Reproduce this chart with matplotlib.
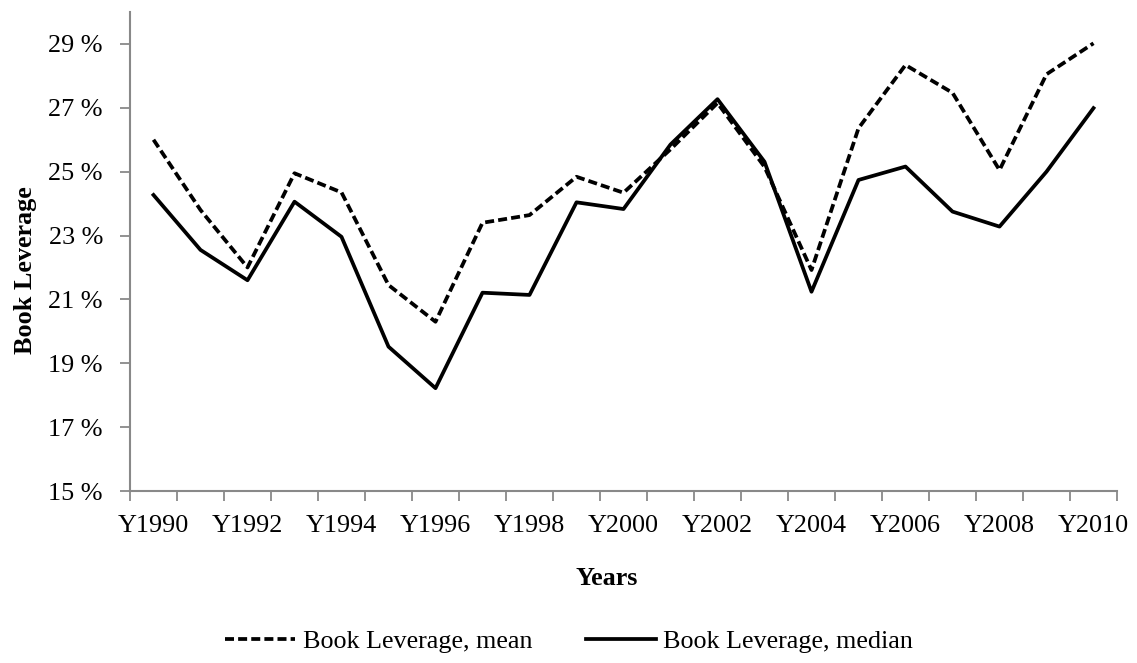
import numpy as np
import matplotlib
matplotlib.use("Agg")
import matplotlib.pyplot as plt
from matplotlib.ticker import FuncFormatter

plt.rcParams['font.family'] = ['Liberation Serif', 'DejaVu Serif']

# data (percent)
years = ['Y%d' % y for y in range(1990, 2011)]
lev_mean = [26.0, 23.8, 22.0, 24.95, 24.35, 21.45, 20.3, 23.4, 23.64, 24.84, 24.34,
            25.7, 27.15, 25.15, 21.92, 26.36, 28.34, 27.47, 25.05, 28.05, 29.02]
lev_median = [24.27, 22.55, 21.6, 24.06, 22.96, 19.52, 18.22, 21.21, 21.14, 24.04, 23.83,
              25.85, 27.27, 25.31, 21.24, 24.74, 25.16, 23.75, 23.28, 25.0, 26.99]

FS = 18.8

fig = plt.figure(figsize=(11.37, 6.63), dpi=100)
ax = fig.add_axes([130 / 1137, 1 - 491 / 663, (1117 - 130) / 1137, (491 - 12) / 663])

x = np.arange(len(years))
ax.plot(x, lev_mean, color='black', lw=2.7, linestyle=(0, (2.4, 1.1)),
        solid_capstyle='butt', label='Book Leverage, mean')
ax.plot(x, lev_median, color='black', lw=2.7, label='Book Leverage, median')

ax.set_xlim(-0.5, len(years) - 0.5)
ax.set_ylim(15, 30)
ax.set_yticks(np.arange(15, 30, 2))
ax.yaxis.set_major_formatter(FuncFormatter(lambda v, p: '%d %%' % v))

# ticks between categories, labels on every other category
ax.set_xticks(np.arange(-0.5, len(years), 1.0))
ax.set_xticklabels([])
ax.set_xticks(x[::2], minor=True)
ax.set_xticklabels(years[::2], minor=True)
ax.tick_params(axis='x', which='minor', length=0, pad=17, labelsize=FS)
ax.tick_params(axis='x', which='major', length=7, width=1.3, color='#898989', direction='out')
ax.tick_params(axis='y', length=7, width=1.3, color='#898989', pad=12.5, labelsize=FS)

for s in ['top', 'right']:
    ax.spines[s].set_visible(False)
for s in ['left', 'bottom']:
    ax.spines[s].set_color('#898989')
    ax.spines[s].set_linewidth(1.5)

ax.set_ylabel('Book Leverage', fontsize=FS, fontweight='bold')
ax.yaxis.set_label_coords(-0.0942, 0.461)
ax.set_xlabel('Years', fontsize=FS, fontweight='bold')
ax.xaxis.set_label_coords(0.483, -0.158)

ax.legend(loc='center', bbox_to_anchor=(569 / 1137, 1 - 641 / 663), bbox_transform=fig.transFigure,
          ncol=2, frameon=False, fontsize=FS, handlelength=2.7, handletextpad=0.27,
          columnspacing=2.05, borderpad=0, borderaxespad=0)

fig.savefig('out.png', dpi=100)
